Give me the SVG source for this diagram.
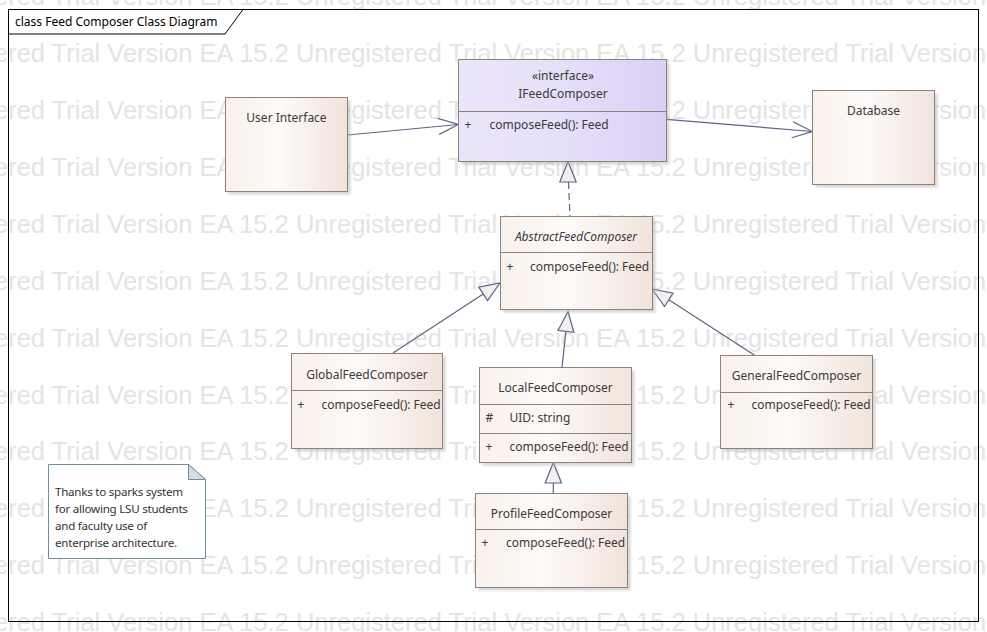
<svg xmlns="http://www.w3.org/2000/svg" width="987" height="632" viewBox="0 0 987 632">
<defs>
<linearGradient id="beige" x1="0" y1="0" x2="1" y2="0">
<stop offset="0" stop-color="#f9f1eb"/>
<stop offset="0.45" stop-color="#fdfaf8"/>
<stop offset="1" stop-color="#f1e3da"/>
</linearGradient>
<linearGradient id="lav" x1="0" y1="0" x2="1" y2="0">
<stop offset="0" stop-color="#ebe5fb"/>
<stop offset="0.5" stop-color="#e6dff9"/>
<stop offset="1" stop-color="#dad0f4"/>
</linearGradient>
<filter id="sh" x="-10%" y="-10%" width="130%" height="130%">
<feGaussianBlur stdDeviation="1.2"/>
</filter>
</defs>
<style>
.wm{font-family:"Liberation Sans",Arial,sans-serif;font-size:25.5px;fill:#e4e4e4}
.box{stroke:#8d817c;stroke-width:1}
.shadow{fill:#b0b0b0;opacity:.5;filter:url(#sh)}
.div{stroke:#8d817c;stroke-width:1}
.t{font-family:"Noto Sans","Open Sans",sans-serif;font-size:12px;fill:#3a3a3a}
.c{text-anchor:middle}
.it{font-style:italic}
.con{stroke:#5a6681;stroke-width:1.2;fill:none}
.tri{stroke:#5a6681;stroke-width:1.2;fill:#f4eeee}
.note{font-family:"Noto Sans","Open Sans",sans-serif;font-size:11.6px;fill:#333;letter-spacing:-0.25px}
</style>
<rect x="0" y="0" width="987" height="632" fill="#ffffff"/>
<g id="watermark">
<text class="wm" x="-101" y="5.3">Unregistered Trial Version EA 15.2 Unregistered Trial Version EA 15.2 Unregistered Trial Version</text>
<text class="wm" x="-101" y="62.3">Unregistered Trial Version EA 15.2 Unregistered Trial Version EA 15.2 Unregistered Trial Version</text>
<text class="wm" x="-101" y="119.2">Unregistered Trial Version EA 15.2 Unregistered Trial Version EA 15.2 Unregistered Trial Version</text>
<text class="wm" x="-101" y="176.2">Unregistered Trial Version EA 15.2 Unregistered Trial Version EA 15.2 Unregistered Trial Version</text>
<text class="wm" x="-101" y="233.3">Unregistered Trial Version EA 15.2 Unregistered Trial Version EA 15.2 Unregistered Trial Version</text>
<text class="wm" x="-101" y="290">Unregistered Trial Version EA 15.2 Unregistered Trial Version EA 15.2 Unregistered Trial Version</text>
<text class="wm" x="-101" y="346.8">Unregistered Trial Version EA 15.2 Unregistered Trial Version EA 15.2 Unregistered Trial Version</text>
<text class="wm" x="-101" y="403.6">Unregistered Trial Version EA 15.2 Unregistered Trial Version EA 15.2 Unregistered Trial Version</text>
<text class="wm" x="-101" y="460.4">Unregistered Trial Version EA 15.2 Unregistered Trial Version EA 15.2 Unregistered Trial Version</text>
<text class="wm" x="-101" y="517.2">Unregistered Trial Version EA 15.2 Unregistered Trial Version EA 15.2 Unregistered Trial Version</text>
<text class="wm" x="-101" y="574">Unregistered Trial Version EA 15.2 Unregistered Trial Version EA 15.2 Unregistered Trial Version</text>
<text class="wm" x="-101" y="630.8">Unregistered Trial Version EA 15.2 Unregistered Trial Version EA 15.2 Unregistered Trial Version</text>
</g>
<g id="frame">
<rect x="8.5" y="9.5" width="970" height="612" fill="none" stroke="#000" stroke-width="1"/>
<polyline points="8.5,34 225,34 243,9.5" fill="none" stroke="#000" stroke-width="1"/>
<text x="15" y="25.5" style="font-family:'Noto Sans','Open Sans',sans-serif;font-size:12px;fill:#000">class Feed Composer Class Diagram</text>
</g>
<g id="connectors">
<line class="con" x1="347.5" y1="135" x2="458.3" y2="124.5"/>
<polyline class="con" points="439.2,134.4 458.3,124.5 437.7,118.4"/>
<line class="con" x1="666.5" y1="119.3" x2="812.3" y2="131.5"/>
<polyline class="con" points="791.7,137.8 812.3,131.5 793.1,121.8"/>
<line class="con" x1="568.5" y1="182" x2="570" y2="216.5" stroke-dasharray="7,4"/>
<polygon class="tri" points="568,161.5 576.2,182 559.8,182"/>
<line class="con" x1="393" y1="353" x2="483.2" y2="293.9"/>
<polygon class="tri" points="500,283 487.5,300.6 478.8,287.2"/>
<line class="con" x1="562" y1="367.3" x2="565.9" y2="331.4"/>
<polygon class="tri" points="568,311.5 573.9,332.3 558,330.5"/>
<line class="con" x1="755" y1="355.5" x2="668.8" y2="299.8"/>
<polygon class="tri" points="652,289 673.1,293.1 664.5,306.5"/>
<line class="con" x1="553.3" y1="483" x2="553.3" y2="493.3"/>
<polygon class="tri" points="553.3,462.5 561.5,483 545.1,483"/>
</g>
<g id="UserInterface">
<rect class="shadow" x="228.5" y="100.5" width="122" height="94"/>
<rect class="box" x="225.5" y="97.5" width="122" height="94" fill="url(#beige)"/>
<text class="t c" x="286.5" y="121.5">User Interface</text>
</g>
<g id="IFeedComposer">
<rect class="shadow" x="461.5" y="62.5" width="208" height="102"/>
<rect class="box" x="458.5" y="59.5" width="208" height="102" fill="url(#lav)"/>
<line class="div" x1="458.5" y1="111.5" x2="666.5" y2="111.5"/>
<text class="t c" x="563" y="80">«interface»</text>
<text class="t c" x="563" y="97.5">IFeedComposer</text>
<text class="t" x="464.5" y="128.5">+</text>
<text class="t" x="489.5" y="128.5">composeFeed(): Feed</text>
</g>
<g id="Database">
<rect class="shadow" x="815.5" y="93.5" width="122" height="94"/>
<rect class="box" x="812.5" y="90.5" width="122" height="94" fill="url(#beige)"/>
<text class="t c" x="873.5" y="115">Database</text>
</g>
<g id="AbstractFeedComposer">
<rect class="shadow" x="503.5" y="219.5" width="152" height="93"/>
<rect class="box" x="500.5" y="216.5" width="152" height="93" fill="url(#beige)"/>
<line class="div" x1="500.5" y1="252.5" x2="652.5" y2="252.5"/>
<text class="t c it" x="576" y="240.5">AbstractFeedComposer</text>
<text class="t" x="506.5" y="270.5">+</text>
<text class="t" x="530" y="270.5">composeFeed(): Feed</text>
</g>
<g id="GlobalFeedComposer">
<rect class="shadow" x="294.5" y="356.5" width="151" height="95"/>
<rect class="box" x="291.5" y="353.5" width="151" height="95" fill="url(#beige)"/>
<line class="div" x1="291.5" y1="390.5" x2="442.5" y2="390.5"/>
<text class="t c" x="367" y="378.5">GlobalFeedComposer</text>
<text class="t" x="297.5" y="408.5">+</text>
<text class="t" x="321.5" y="408.5">composeFeed(): Feed</text>
</g>
<g id="LocalFeedComposer">
<rect class="shadow" x="482.5" y="370.5" width="152" height="95"/>
<rect class="box" x="479.5" y="367.5" width="152" height="95" fill="url(#beige)"/>
<line class="div" x1="479.5" y1="404.5" x2="631.5" y2="404.5"/>
<line class="div" x1="479.5" y1="433.5" x2="631.5" y2="433.5"/>
<text class="t c" x="555.5" y="392">LocalFeedComposer</text>
<text class="t" x="485.5" y="422">#</text>
<text class="t" x="509.5" y="422">UID: string</text>
<text class="t" x="485.5" y="451">+</text>
<text class="t" x="509.5" y="451">composeFeed(): Feed</text>
</g>
<g id="ProfileFeedComposer">
<rect class="shadow" x="478.5" y="496.5" width="152" height="94"/>
<rect class="box" x="475.5" y="493.5" width="152" height="94" fill="url(#beige)"/>
<line class="div" x1="475.5" y1="529.5" x2="627.5" y2="529.5"/>
<text class="t c" x="551.5" y="517.5">ProfileFeedComposer</text>
<text class="t" x="481.5" y="547">+</text>
<text class="t" x="506" y="547">composeFeed(): Feed</text>
</g>
<g id="GeneralFeedComposer">
<rect class="shadow" x="723.5" y="358.5" width="152" height="93"/>
<rect class="box" x="720.5" y="355.5" width="152" height="93" fill="url(#beige)"/>
<line class="div" x1="720.5" y1="392.5" x2="872.5" y2="392.5"/>
<text class="t c" x="796.5" y="380">GeneralFeedComposer</text>
<text class="t" x="727.5" y="408.5">+</text>
<text class="t" x="751.5" y="408.5">composeFeed(): Feed</text>
</g>
<g id="Note">
<polygon points="48.5,464.5 188.5,464.5 205.5,479.5 205.5,558.5 48.5,558.5" fill="#ffffff" stroke="#6f8c9b" stroke-width="1"/>
<polygon points="188.5,464.5 205.5,479.5 188.5,479.5" fill="#d7dde5" stroke="#6f8c9b" stroke-width="1"/>
<text class="note" x="55" y="496">Thanks to sparks system</text>
<text class="note" x="55" y="513">for allowing LSU students</text>
<text class="note" x="55" y="530">and faculty use of</text>
<text class="note" x="55" y="547">enterprise architecture.</text>
</g>
</svg>
